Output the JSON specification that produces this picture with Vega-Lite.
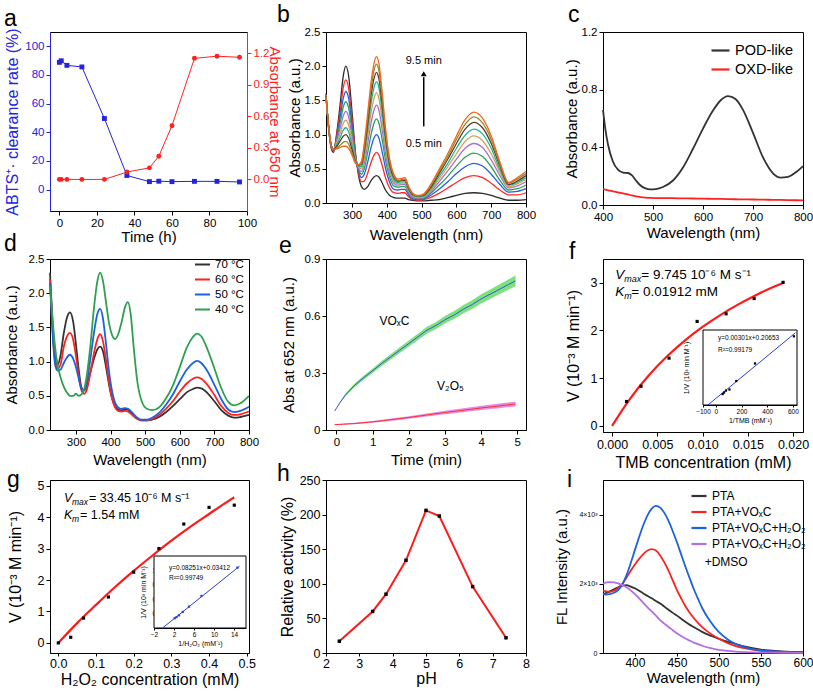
{
"$schema":"https://vega.github.io/schema/vega-lite/v6.json",
"background":"white",
"padding":{"left":3,"top":3,"right":0,"bottom":0},
"columns":3,
"spacing":{"row":48,"column":77},
"bounds":"flush",
"align":"each",
"resolve":{"scale":{"color":"independent"},"legend":{"color":"independent"}},
"datasets":{
"a":[{"t":0,"c":88.8,"r":0},{"t":1,"c":89.9,"r":0},{"t":4,"c":86.7,"r":0},{"t":12,"c":85.6,"r":0},{"t":24,"c":49.6,"r":0},{"t":36,"c":9.8,"r":0.07},{"t":48,"c":5.5,"r":0.11},{"t":53,"c":5.8,"r":0.22},{"t":60,"c":5.5,"r":0.51},{"t":72,"c":5.7,"r":1.15},{"t":84,"c":5.7,"r":1.17},{"t":96,"c":5.3,"r":1.16}],
"b":[
{"w":225,"k0":1.60,"k1":1.59,"k2":1.58,"k3":1.58,"k4":1.57,"k5":1.57,"k6":1.56,"k7":1.56,"k8":1.55,"k9":1.55},
{"w":232,"k0":1.12,"k1":1.13,"k2":1.13,"k3":1.14,"k4":1.14,"k5":1.14,"k6":1.15,"k7":1.15,"k8":1.15,"k9":1.15},
{"w":240,"k0":0.80,"k1":0.82,"k2":0.83,"k3":0.84,"k4":0.84,"k5":0.84,"k6":0.84,"k7":0.84,"k8":0.84,"k9":0.84},
{"w":247,"k0":0.74,"k1":0.76,"k2":0.77,"k3":0.78,"k4":0.78,"k5":0.78,"k6":0.78,"k7":0.78,"k8":0.78,"k9":0.78},
{"w":255,"k0":0.99,"k1":0.97,"k2":0.94,"k3":0.92,"k4":0.89,"k5":0.87,"k6":0.84,"k7":0.82,"k8":0.80,"k9":0.79},
{"w":265,"k0":1.41,"k1":1.31,"k2":1.23,"k3":1.15,"k4":1.08,"k5":1.01,"k6":0.95,"k7":0.90,"k8":0.84,"k9":0.81},
{"w":275,"k0":1.87,"k1":1.70,"k2":1.54,"k3":1.41,"k4":1.28,"k5":1.17,"k6":1.07,"k7":0.98,"k8":0.89,"k9":0.83},
{"w":282,"k0":2.00,"k1":1.80,"k2":1.63,"k3":1.48,"k4":1.34,"k5":1.21,"k6":1.10,"k7":1.00,"k8":0.90,"k9":0.83},
{"w":290,"k0":1.86,"k1":1.68,"k2":1.53,"k3":1.39,"k4":1.26,"k5":1.14,"k6":1.04,"k7":0.95,"k8":0.86,"k9":0.80},
{"w":300,"k0":1.32,"k1":1.22,"k2":1.13,"k3":1.05,"k4":0.97,"k5":0.90,"k6":0.84,"k7":0.78,"k8":0.73,"k9":0.70},
{"w":310,"k0":0.72,"k1":0.70,"k2":0.68,"k3":0.66,"k4":0.64,"k5":0.62,"k6":0.61,"k7":0.60,"k8":0.59,"k9":0.58},
{"w":318,"k0":0.42,"k1":0.45,"k2":0.48,"k3":0.50,"k4":0.52,"k5":0.53,"k6":0.54,"k7":0.55,"k8":0.55,"k9":0.56},
{"w":327,"k0":0.24,"k1":0.31,"k2":0.37,"k3":0.42,"k4":0.46,"k5":0.50,"k6":0.53,"k7":0.56,"k8":0.58,"k9":0.61},
{"w":335,"k0":0.20,"k1":0.32,"k2":0.42,"k3":0.50,"k4":0.58,"k5":0.65,"k6":0.71,"k7":0.77,"k8":0.82,"k9":0.87},
{"w":345,"k0":0.24,"k1":0.44,"k2":0.60,"k3":0.74,"k4":0.87,"k5":0.98,"k6":1.08,"k7":1.17,"k8":1.25,"k9":1.32},
{"w":355,"k0":0.33,"k1":0.60,"k2":0.82,"k3":1.01,"k4":1.18,"k5":1.33,"k6":1.47,"k7":1.59,"k8":1.69,"k9":1.78},
{"w":363,"k0":0.38,"k1":0.70,"k2":0.95,"k3":1.17,"k4":1.36,"k5":1.53,"k6":1.69,"k7":1.82,"k8":1.94,"k9":2.04},
{"w":370,"k0":0.40,"k1":0.74,"k2":1.00,"k3":1.23,"k4":1.43,"k5":1.61,"k6":1.77,"k7":1.91,"k8":2.03,"k9":2.14},
{"w":377,"k0":0.38,"k1":0.70,"k2":0.95,"k3":1.17,"k4":1.36,"k5":1.53,"k6":1.69,"k7":1.82,"k8":1.94,"k9":2.04},
{"w":386,"k0":0.30,"k1":0.56,"k2":0.76,"k3":0.94,"k4":1.09,"k5":1.23,"k6":1.35,"k7":1.46,"k8":1.56,"k9":1.64},
{"w":396,"k0":0.19,"k1":0.37,"k2":0.51,"k3":0.63,"k4":0.73,"k5":0.82,"k6":0.91,"k7":0.98,"k8":1.05,"k9":1.10},
{"w":408,"k0":0.11,"k1":0.22,"k2":0.30,"k3":0.37,"k4":0.43,"k5":0.48,"k6":0.53,"k7":0.57,"k8":0.61,"k9":0.64},
{"w":420,"k0":0.08,"k1":0.15,"k2":0.20,"k3":0.25,"k4":0.29,"k5":0.32,"k6":0.35,"k7":0.38,"k8":0.40,"k9":0.42},
{"w":432,"k0":0.07,"k1":0.14,"k2":0.19,"k3":0.23,"k4":0.26,"k5":0.28,"k6":0.30,"k7":0.32,"k8":0.33,"k9":0.35},
{"w":442,"k0":0.07,"k1":0.15,"k2":0.20,"k3":0.24,"k4":0.27,"k5":0.29,"k6":0.31,"k7":0.33,"k8":0.34,"k9":0.36},
{"w":452,"k0":0.07,"k1":0.15,"k2":0.20,"k3":0.24,"k4":0.27,"k5":0.29,"k6":0.31,"k7":0.33,"k8":0.35,"k9":0.37},
{"w":462,"k0":0.05,"k1":0.09,"k2":0.12,"k3":0.15,"k4":0.17,"k5":0.19,"k6":0.21,"k7":0.22,"k8":0.23,"k9":0.25},
{"w":475,"k0":0.04,"k1":0.05,"k2":0.06,"k3":0.08,"k4":0.09,"k5":0.10,"k6":0.11,"k7":0.12,"k8":0.13,"k9":0.14},
{"w":490,"k0":0.03,"k1":0.04,"k2":0.05,"k3":0.06,"k4":0.07,"k5":0.08,"k6":0.09,"k7":0.10,"k8":0.10,"k9":0.11},
{"w":505,"k0":0.03,"k1":0.05,"k2":0.06,"k3":0.07,"k4":0.08,"k5":0.09,"k6":0.10,"k7":0.11,"k8":0.12,"k9":0.13},
{"w":525,"k0":0.04,"k1":0.08,"k2":0.11,"k3":0.14,"k4":0.16,"k5":0.18,"k6":0.20,"k7":0.22,"k8":0.24,"k9":0.26},
{"w":550,"k0":0.05,"k1":0.14,"k2":0.20,"k3":0.26,"k4":0.31,"k5":0.35,"k6":0.39,"k7":0.43,"k8":0.46,"k9":0.49},
{"w":575,"k0":0.08,"k1":0.22,"k2":0.31,"k3":0.39,"k4":0.47,"k5":0.53,"k6":0.58,"k7":0.64,"k8":0.68,"k9":0.72},
{"w":600,"k0":0.11,"k1":0.30,"k2":0.43,"k3":0.54,"k4":0.64,"k5":0.72,"k6":0.80,"k7":0.87,"k8":0.93,"k9":0.98},
{"w":625,"k0":0.14,"k1":0.37,"k2":0.53,"k3":0.67,"k4":0.80,"k5":0.90,"k6":0.99,"k7":1.08,"k8":1.15,"k9":1.22},
{"w":650,"k0":0.15,"k1":0.40,"k2":0.58,"k3":0.73,"k4":0.87,"k5":0.98,"k6":1.08,"k7":1.18,"k8":1.26,"k9":1.33},
{"w":675,"k0":0.14,"k1":0.37,"k2":0.54,"k3":0.68,"k4":0.81,"k5":0.91,"k6":1.01,"k7":1.10,"k8":1.17,"k9":1.24},
{"w":700,"k0":0.11,"k1":0.29,"k2":0.42,"k3":0.53,"k4":0.63,"k5":0.72,"k6":0.80,"k7":0.87,"k8":0.93,"k9":0.98},
{"w":725,"k0":0.07,"k1":0.19,"k2":0.27,"k3":0.33,"k4":0.40,"k5":0.45,"k6":0.49,"k7":0.54,"k8":0.57,"k9":0.60},
{"w":750,"k0":0.04,"k1":0.12,"k2":0.16,"k3":0.19,"k4":0.22,"k5":0.24,"k6":0.26,"k7":0.27,"k8":0.29,"k9":0.30},
{"w":775,"k0":0.04,"k1":0.12,"k2":0.17,"k3":0.21,"k4":0.25,"k5":0.28,"k6":0.30,"k7":0.32,"k8":0.35,"k9":0.37},
{"w":800,"k0":0.05,"k1":0.15,"k2":0.21,"k3":0.26,"k4":0.31,"k5":0.34,"k6":0.37,"k7":0.40,"k8":0.43,"k9":0.46}],
"c":[{"w":400,"pod":0.66,"oxd":0.110},{"w":405,"pod":0.52,"oxd":0.106},{"w":410,"pod":0.42,"oxd":0.102},{"w":420,"pod":0.30,"oxd":0.095},{"w":430,"pod":0.245,"oxd":0.088},{"w":440,"pod":0.225,"oxd":0.080},{"w":450,"pod":0.222,"oxd":0.073},{"w":458,"pod":0.205,"oxd":0.066},{"w":466,"pod":0.17,"oxd":0.060},{"w":475,"pod":0.135,"oxd":0.055},{"w":485,"pod":0.115,"oxd":0.051},{"w":495,"pod":0.108,"oxd":0.049},{"w":505,"pod":0.11,"oxd":0.048},{"w":520,"pod":0.125,"oxd":0.048},{"w":540,"pod":0.17,"oxd":0.047},{"w":560,"pod":0.26,"oxd":0.046},{"w":580,"pod":0.39,"oxd":0.045},{"w":600,"pod":0.53,"oxd":0.044},{"w":620,"pod":0.655,"oxd":0.043},{"w":635,"pod":0.725,"oxd":0.042},{"w":650,"pod":0.755,"oxd":0.041},{"w":665,"pod":0.735,"oxd":0.040},{"w":680,"pod":0.66,"oxd":0.039},{"w":700,"pod":0.50,"oxd":0.038},{"w":720,"pod":0.33,"oxd":0.037},{"w":740,"pod":0.22,"oxd":0.036},{"w":755,"pod":0.19,"oxd":0.035},{"w":770,"pod":0.195,"oxd":0.034},{"w":785,"pod":0.225,"oxd":0.033},{"w":800,"pod":0.27,"oxd":0.032}],
"d":[{"w":225,"t70":2.30,"t60":2.20,"t50":2.15,"t40":2.10},{"w":232,"t70":1.60,"t60":1.50,"t50":1.45,"t40":1.65},{"w":240,"t70":1.05,"t60":1.00,"t50":0.95,"t40":1.20},{"w":247,"t70":0.95,"t60":0.90,"t50":0.87,"t40":0.95},{"w":255,"t70":1.08,"t60":0.95,"t50":0.88,"t40":0.78},{"w":265,"t70":1.42,"t60":1.22,"t50":0.98,"t40":0.63},{"w":275,"t70":1.66,"t60":1.38,"t50":1.07,"t40":0.54},{"w":283,"t70":1.72,"t60":1.42,"t50":1.10,"t40":0.50},{"w":292,"t70":1.58,"t60":1.32,"t50":1.04,"t40":0.50},{"w":300,"t70":1.25,"t60":1.08,"t50":0.92,"t40":0.53},{"w":308,"t70":0.88,"t60":0.80,"t50":0.75,"t40":0.50},{"w":316,"t70":0.62,"t60":0.58,"t50":0.60,"t40":0.52},{"w":324,"t70":0.58,"t60":0.53,"t50":0.58,"t40":0.60},{"w":332,"t70":0.66,"t60":0.60,"t50":0.72,"t40":0.82},{"w":342,"t70":0.85,"t60":0.85,"t50":1.05,"t40":1.25},{"w":352,"t70":1.04,"t60":1.12,"t50":1.42,"t40":1.78},{"w":362,"t70":1.18,"t60":1.33,"t50":1.70,"t40":2.18},{"w":370,"t70":1.22,"t60":1.40,"t50":1.77,"t40":2.30},{"w":378,"t70":1.15,"t60":1.30,"t50":1.63,"t40":2.18},{"w":386,"t70":0.95,"t60":1.05,"t50":1.30,"t40":1.90},{"w":395,"t70":0.68,"t60":0.72,"t50":0.88,"t40":1.58},{"w":405,"t70":0.45,"t60":0.45,"t50":0.55,"t40":1.38},{"w":413,"t70":0.35,"t60":0.33,"t50":0.40,"t40":1.33},{"w":422,"t70":0.30,"t60":0.28,"t50":0.33,"t40":1.40},{"w":432,"t70":0.29,"t60":0.27,"t50":0.31,"t40":1.58},{"w":442,"t70":0.30,"t60":0.28,"t50":0.32,"t40":1.80},{"w":450,"t70":0.30,"t60":0.27,"t50":0.31,"t40":1.87},{"w":458,"t70":0.26,"t60":0.24,"t50":0.28,"t40":1.70},{"w":467,"t70":0.21,"t60":0.20,"t50":0.23,"t40":1.20},{"w":477,"t70":0.17,"t60":0.16,"t50":0.18,"t40":0.72},{"w":490,"t70":0.14,"t60":0.14,"t50":0.15,"t40":0.42},{"w":505,"t70":0.14,"t60":0.14,"t50":0.15,"t40":0.31},{"w":520,"t70":0.15,"t60":0.16,"t50":0.18,"t40":0.29},{"w":540,"t70":0.19,"t60":0.22,"t50":0.25,"t40":0.33},{"w":560,"t70":0.26,"t60":0.31,"t50":0.37,"t40":0.46},{"w":580,"t70":0.35,"t60":0.42,"t50":0.52,"t40":0.65},{"w":600,"t70":0.45,"t60":0.56,"t50":0.71,"t40":0.92},{"w":620,"t70":0.55,"t60":0.68,"t50":0.88,"t40":1.20},{"w":638,"t70":0.60,"t60":0.75,"t50":0.98,"t40":1.36},{"w":650,"t70":0.62,"t60":0.77,"t50":1.01,"t40":1.41},{"w":662,"t70":0.61,"t60":0.75,"t50":0.98,"t40":1.37},{"w":680,"t70":0.54,"t60":0.66,"t50":0.86,"t40":1.18},{"w":700,"t70":0.42,"t60":0.51,"t50":0.66,"t40":0.90},{"w":720,"t70":0.29,"t60":0.35,"t50":0.45,"t40":0.61},{"w":740,"t70":0.21,"t60":0.25,"t50":0.30,"t40":0.41},{"w":757,"t70":0.18,"t60":0.22,"t50":0.26,"t40":0.36},{"w":775,"t70":0.19,"t60":0.23,"t50":0.28,"t40":0.39},{"w":800,"t70":0.22,"t60":0.27,"t50":0.34,"t40":0.50}],
"e1":[{"t":-0.05,"m":0.100,"lo":0.100,"hi":0.100},{"t":0.1,"m":0.145,"lo":0.142,"hi":0.148},{"t":0.25,"m":0.185,"lo":0.178,"hi":0.192},{"t":0.5,"m":0.235,"lo":0.225,"hi":0.245},{"t":0.75,"m":0.275,"lo":0.264,"hi":0.286},{"t":1.0,"m":0.312,"lo":0.300,"hi":0.324},{"t":1.25,"m":0.350,"lo":0.337,"hi":0.363},{"t":1.5,"m":0.385,"lo":0.371,"hi":0.399},{"t":1.75,"m":0.420,"lo":0.405,"hi":0.435},{"t":2.0,"m":0.455,"lo":0.439,"hi":0.471},{"t":2.25,"m":0.490,"lo":0.473,"hi":0.507},{"t":2.5,"m":0.525,"lo":0.507,"hi":0.543},{"t":2.75,"m":0.550,"lo":0.531,"hi":0.569},{"t":3.0,"m":0.580,"lo":0.560,"hi":0.600},{"t":3.25,"m":0.605,"lo":0.584,"hi":0.626},{"t":3.5,"m":0.635,"lo":0.613,"hi":0.657},{"t":3.75,"m":0.660,"lo":0.637,"hi":0.683},{"t":4.0,"m":0.690,"lo":0.666,"hi":0.714},{"t":4.25,"m":0.715,"lo":0.690,"hi":0.740},{"t":4.5,"m":0.740,"lo":0.714,"hi":0.766},{"t":4.75,"m":0.765,"lo":0.738,"hi":0.792},{"t":4.95,"m":0.785,"lo":0.757,"hi":0.813}],
"e2":[{"t":-0.05,"m":0.028,"lo":0.026,"hi":0.030},{"t":0.5,"m":0.034,"lo":0.030,"hi":0.038},{"t":1.0,"m":0.043,"lo":0.038,"hi":0.048},{"t":1.5,"m":0.054,"lo":0.048,"hi":0.060},{"t":2.0,"m":0.066,"lo":0.059,"hi":0.073},{"t":2.5,"m":0.079,"lo":0.071,"hi":0.087},{"t":3.0,"m":0.092,"lo":0.083,"hi":0.101},{"t":3.5,"m":0.104,"lo":0.094,"hi":0.114},{"t":4.0,"m":0.116,"lo":0.105,"hi":0.127},{"t":4.5,"m":0.127,"lo":0.115,"hi":0.139},{"t":4.95,"m":0.137,"lo":0.124,"hi":0.150}],
"f_pts":[{"s":0.0016,"v":0.51},{"s":0.0032,"v":0.83},{"s":0.0063,"v":1.42},{"s":0.0094,"v":2.19},{"s":0.0126,"v":2.35},{"s":0.0157,"v":2.67},{"s":0.0189,"v":3.01}],
"f_fit":[{"s":0,"v":0},{"s":0.002,"v":0.572},{"s":0.004,"v":1.045},{"s":0.006,"v":1.443},{"s":0.008,"v":1.782},{"s":0.010,"v":2.074},{"s":0.012,"v":2.329},{"s":0.014,"v":2.553},{"s":0.016,"v":2.752},{"s":0.018,"v":2.929},{"s":0.0189,"v":3.0}],
"f_in":[{"x":53,"y":0.33},{"x":64,"y":0.375},{"x":79,"y":0.43},{"x":106,"y":0.46},{"x":159,"y":0.70},{"x":305,"y":1.2},{"x":608,"y":1.97}],
"f_inl":[{"x":-62,"y":0.02},{"x":620,"y":2.07}],
"g_pts":[{"s":0,"v":0},{"s":0.033,"v":0.18},{"s":0.067,"v":0.79},{"s":0.133,"v":1.46},{"s":0.2,"v":2.25},{"s":0.267,"v":3.0},{"s":0.333,"v":3.78},{"s":0.4,"v":4.31},{"s":0.467,"v":4.38}],
"g_fit":[{"s":0,"v":0},{"s":0.05,"v":0.63},{"s":0.1,"v":1.21},{"s":0.15,"v":1.77},{"s":0.2,"v":2.29},{"s":0.25,"v":2.78},{"s":0.3,"v":3.25},{"s":0.35,"v":3.69},{"s":0.4,"v":4.10},{"s":0.45,"v":4.50},{"s":0.467,"v":4.63}],
"g_in":[{"x":2.14,"y":0.21},{"x":2.5,"y":0.235},{"x":3.0,"y":0.27},{"x":3.75,"y":0.34},{"x":5.0,"y":0.45},{"x":7.5,"y":0.67},{"x":14.67,"y":1.25}],
"g_inl":[{"x":-0.3,"y":0.01},{"x":15.1,"y":1.28}],
"h":[{"p":2.4,"v":17},{"p":3.4,"v":60},{"p":3.8,"v":85},{"p":4.4,"v":134},{"p":5.0,"v":206},{"p":5.4,"v":198},{"p":6.4,"v":96},{"p":7.4,"v":22}],
"h_err":[{"p":2.4,"v":15,"v2":19},{"p":3.4,"v":58,"v2":62},{"p":3.8,"v":83,"v2":87},{"p":4.4,"v":130,"v2":138},{"p":5.0,"v":202,"v2":210},{"p":5.4,"v":196,"v2":200},{"p":6.4,"v":94,"v2":98},{"p":7.4,"v":20,"v2":24}],
"i":[{"w":362,"p":1700,"v":1800,"h":1700,"d":2000},{"w":366,"p":1740,"v":1780,"h":1690,"d":2040},{"w":370,"p":1780,"v":1770,"h":1700,"d":2050},{"w":375,"p":1840,"v":1800,"h":1740,"d":2040},{"w":380,"p":1900,"v":1880,"h":1820,"d":2010},{"w":385,"p":1950,"v":2000,"h":1980,"d":1960},{"w":390,"p":1960,"v":2180,"h":2250,"d":1900},{"w":395,"p":1920,"v":2380,"h":2600,"d":1810},{"w":400,"p":1870,"v":2560,"h":2980,"d":1700},{"w":405,"p":1800,"v":2720,"h":3350,"d":1580},{"w":410,"p":1720,"v":2860,"h":3700,"d":1450},{"w":415,"p":1650,"v":2960,"h":3980,"d":1320},{"w":420,"p":1580,"v":3000,"h":4170,"d":1200},{"w":425,"p":1500,"v":2960,"h":4250,"d":1080},{"w":430,"p":1430,"v":2820,"h":4200,"d":950},{"w":435,"p":1340,"v":2620,"h":4050,"d":850},{"w":440,"p":1250,"v":2380,"h":3820,"d":750},{"w":445,"p":1160,"v":2100,"h":3520,"d":660},{"w":450,"p":1080,"v":1820,"h":3200,"d":570},{"w":455,"p":990,"v":1580,"h":2850,"d":490},{"w":460,"p":900,"v":1360,"h":2500,"d":420},{"w":465,"p":820,"v":1170,"h":2170,"d":360},{"w":470,"p":750,"v":1010,"h":1850,"d":300},{"w":475,"p":680,"v":870,"h":1570,"d":255},{"w":480,"p":610,"v":750,"h":1300,"d":210},{"w":490,"p":500,"v":560,"h":900,"d":140},{"w":500,"p":410,"v":410,"h":600,"d":90},{"w":510,"p":330,"v":290,"h":400,"d":60},{"w":520,"p":260,"v":200,"h":260,"d":40},{"w":530,"p":190,"v":140,"h":170,"d":28},{"w":540,"p":140,"v":95,"h":110,"d":20},{"w":550,"p":100,"v":65,"h":72,"d":14},{"w":560,"p":72,"v":45,"h":50,"d":10},{"w":575,"p":45,"v":30,"h":30,"d":7},{"w":590,"p":32,"v":20,"h":20,"d":5},{"w":600,"p":25,"v":15,"h":15,"d":5}]
},
"concat":[
{
"title":{"text":"a","dx":-46,"offset":-3},
"width":197,"height":179,
"data":{"name":"a"},
"encoding":{"x":{"field":"t","type":"quantitative","scale":{"domain":[-5,100],"nice":false},"axis":{"values":[0,20,40,60,80,100],"title":"Time (h)","titlePadding":1}}},
"layer":[
{"layer":[
{"mark":{"type":"line","color":"#2424e0","strokeWidth":1}},
{"mark":{"type":"point","shape":"square","filled":true,"color":"#2424e0","size":24,"opacity":1}}],
"encoding":{"y":{"field":"c","type":"quantitative","scale":{"domain":[-15,110],"nice":false},"axis":{"values":[0,20,40,60,80,100],"title":"ABTS⁺· clearance rate (%)","titleFontSize":16,"titlePadding":4,"titleColor":"#2424e0","labelColor":"#2424e0","domainColor":"#2424e0","tickColor":"#2424e0"}}}},
{"layer":[
{"mark":{"type":"line","color":"#ff2020","strokeWidth":1}},
{"mark":{"type":"point","shape":"circle","filled":true,"color":"#ff2020","size":24,"opacity":1}}],
"encoding":{"y":{"field":"r","type":"quantitative","scale":{"domain":[-0.3,1.4],"nice":false},"axis":{"orient":"right","values":[0,0.3,0.6,0.9,1.2],"format":".1f","title":"Absorbance at 650 nm","titlePadding":-2,"titleColor":"#ff2020","labelColor":"#ff2020","domainColor":"#ff2020","tickColor":"#ff2020"}}}}
],
"resolve":{"scale":{"y":"independent"}}
},
{
"title":{"text":"b","dx":-49,"offset":-1},
"width":200,"height":171,
"encoding":{
"x":{"field":"w","type":"quantitative","scale":{"domain":[225,800],"nice":false},"axis":{"values":[300,400,500,600,700,800],"title":"Wavelength (nm)","titlePadding":7}},
"y":{"field":"v","type":"quantitative","scale":{"domain":[0,2.5],"nice":false},"axis":{"values":[0,0.5,1,1.5,2,2.5],"format":".1f","title":"Absorbance (a.u.)","titlePadding":2}}},
"layer":[
{"data":{"name":"b"},"transform":[{"fold":["k0","k1","k2","k3","k4","k5","k6","k7","k8","k9"],"as":["sb","v"]}],
"mark":{"type":"line","strokeWidth":1.3,"interpolate":"monotone"},
"encoding":{"color":{"field":"sb","type":"nominal","scale":{"domain":["k0","k1","k2","k3","k4","k5","k6","k7","k8","k9"],"range":["#2b2b2b","#ff2a2a","#2060e8","#2ea050","#a86cdc","#d4a24c","#1fb395","#5b3b2b","#8e8a2e","#f4641c"]},"legend":null}}},
{"data":{"values":[{"w":506,"v":1.12,"v2":1.84}]},"mark":{"type":"rule","color":"black","strokeWidth":1.5},"encoding":{"y2":{"field":"v2"}}},
{"data":{"values":[{"w":506,"v":1.89}]},"mark":{"type":"point","shape":"triangle-up","filled":true,"color":"black","size":35,"opacity":1}},
{"data":{"values":[{"w":506,"v":2.08,"label":"9.5 min"},{"w":506,"v":0.86,"label":"0.5 min"}]},"mark":{"type":"text","fontSize":11,"align":"center","baseline":"middle","color":"black"},"encoding":{"text":{"field":"label"}}}
]
},
{
"title":{"text":"c","dx":-35,"offset":-1},
"width":200,"height":173,
"data":{"name":"c"},
"transform":[{"fold":["pod","oxd"],"as":["sc","v"]}],
"mark":{"type":"line","strokeWidth":1.8,"interpolate":"monotone"},
"encoding":{
"x":{"field":"w","type":"quantitative","scale":{"domain":[400,800],"nice":false},"axis":{"values":[400,500,600,700,800],"title":"Wavelength (nm)","titlePadding":3}},
"y":{"field":"v","type":"quantitative","scale":{"domain":[0,1.2],"nice":false},"axis":{"values":[0,0.4,0.8,1.2],"format":".1f","title":"Absorbance (a.u.)","titlePadding":2}},
"color":{"field":"sc","type":"nominal","scale":{"domain":["pod","oxd"],"range":["#333333","#ff2020"]},"legend":{"title":null,"legendX":107,"legendY":8,"labelFontSize":14.5,"symbolSize":324,"symbolStrokeWidth":2.2,"rowPadding":2,"labelExpr":"datum.label == 'pod' ? 'POD-like' : 'OXD-like'"}}}
},
{
"title":{"text":"d","dx":-46,"offset":-3},
"width":199,"height":171,
"data":{"name":"d"},
"transform":[{"fold":["t70","t60","t50","t40"],"as":["sd","v"]}],
"mark":{"type":"line","strokeWidth":1.8,"interpolate":"monotone"},
"encoding":{
"x":{"field":"w","type":"quantitative","scale":{"domain":[225,800],"nice":false},"axis":{"values":[300,400,500,600,700,800],"title":"Wavelength (nm)","titlePadding":5}},
"y":{"field":"v","type":"quantitative","scale":{"domain":[0,2.5],"nice":false},"axis":{"values":[0,0.5,1,1.5,2,2.5],"format":".1f","title":"Absorbance (a.u.)","titlePadding":9}},
"color":{"field":"sd","type":"nominal","scale":{"domain":["t70","t60","t50","t40"],"range":["#333333","#ff2020","#1a62e0","#2ea050"]},"legend":{"title":null,"legendX":144,"legendY":-3,"labelFontSize":11.5,"symbolSize":225,"symbolStrokeWidth":2,"rowPadding":1,"labelExpr":"replace(datum.label, 't', '') + ' °C'"}}}
},
{
"title":{"text":"e","dx":-47,"offset":-5},
"width":200,"height":171,
"encoding":{
"x":{"field":"t","type":"quantitative","scale":{"domain":[-0.29,5.24],"nice":false},"axis":{"values":[0,1,2,3,4,5],"title":"Time (min)","titlePadding":5}},
"y":{"field":"m","type":"quantitative","scale":{"domain":[0,0.9],"nice":false},"axis":{"values":[0,0.3,0.6,0.9],"format":"~g","title":"Abs at 652 nm (a.u.)","titlePadding":8}}},
"layer":[
{"data":{"name":"e1"},"mark":{"type":"area","color":"#66dd66","opacity":0.85},"encoding":{"y":{"field":"lo","type":"quantitative"},"y2":{"field":"hi"}}},
{"data":{"name":"e1"},"mark":{"type":"line","color":"#3a55e0","strokeWidth":1}},
{"data":{"name":"e2"},"mark":{"type":"area","color":"#e07ae0","opacity":0.85},"encoding":{"y":{"field":"lo","type":"quantitative"},"y2":{"field":"hi"}}},
{"data":{"name":"e2"},"mark":{"type":"line","color":"#ff3030","strokeWidth":1}},
{"data":{"values":[{"t":1.6,"m":0.575,"label":"VOₓC"},{"t":3.15,"m":0.232,"label":"V₂O₅"}]},"mark":{"type":"text","fontSize":12,"align":"center","baseline":"middle","color":"black"},"encoding":{"text":{"field":"label"}}}
]
},
{
"title":{"text":"f","dx":-34,"offset":-5},
"width":200,"height":173,
"layer":[
{"encoding":{
"x":{"field":"s","type":"quantitative","scale":{"domain":[-0.001,0.0211],"nice":false},"axis":{"values":[0,0.005,0.01,0.015,0.02],"format":".3f","title":"TMB concentration (mM)","labelFontSize":12.5,"titleFontSize":16,"titlePadding":4}},
"y":{"field":"v","type":"quantitative","scale":{"domain":[-0.13,3.5],"nice":false},"axis":{"values":[0,1,2,3],"title":"V (10⁻³ M min⁻¹)","labelFontSize":12.5,"titleFontSize":16,"titlePadding":9}}},
"layer":[
{"data":{"name":"f_fit"},"mark":{"type":"line","color":"#ff1a1a","strokeWidth":2.2,"interpolate":"monotone"}},
{"data":{"name":"f_pts"},"mark":{"type":"point","shape":"square","filled":true,"color":"black","size":10,"opacity":1}},
{"data":{"values":[{"s":0.00036,"v":3.07,"label":"V"},{"s":0.00036,"v":2.72,"label":"K"}]},"mark":{"type":"text","fontSize":13.5,"fontStyle":"italic","align":"left","baseline":"alphabetic","color":"black"},"encoding":{"text":{"field":"label"}}},
{"data":{"values":[{"s":0.00036,"v":3.07,"label":"max"}]},"mark":{"type":"text","fontSize":9,"fontStyle":"italic","align":"left","baseline":"alphabetic","dx":9,"dy":3,"color":"black"},"encoding":{"text":{"field":"label"}}},
{"data":{"values":[{"s":0.00036,"v":2.72,"label":"m"}]},"mark":{"type":"text","fontSize":9,"fontStyle":"italic","align":"left","baseline":"alphabetic","dx":9,"dy":3,"color":"black"},"encoding":{"text":{"field":"label"}}},
{"data":{"values":[{"s":0.00036,"v":3.07,"label":"= 9.745 10⁻⁶ M s⁻¹"}]},"mark":{"type":"text","fontSize":13.5,"align":"left","baseline":"alphabetic","dx":26,"color":"black"},"encoding":{"text":{"field":"label"}}},
{"data":{"values":[{"s":0.00036,"v":2.72,"label":"= 0.01912 mM"}]},"mark":{"type":"text","fontSize":13.5,"align":"left","baseline":"alphabetic","dx":16,"color":"black"},"encoding":{"text":{"field":"label"}}}
]},
{"encoding":{
"x":{"field":"x","type":"quantitative","scale":{"domain":[-100,632],"range":[100,194],"nice":false},"axis":{"orient":"bottom","offset":-27,"values":[-100,0,200,400,600],"title":"1/TMB (mM⁻¹)","labelFontSize":6.5,"titleFontSize":7,"tickSize":2,"labelPadding":1,"titlePadding":2}},
"y":{"field":"y","type":"quantitative","scale":{"domain":[0.02,2.15],"range":[146,71],"nice":false},"axis":{"orient":"left","offset":-113,"values":[0.5,1,1.5,2],"format":".1f","title":"1/V (10³ min M⁻¹)","labelFontSize":6.5,"titleFontSize":7,"tickSize":2,"labelPadding":1,"titlePadding":14}}},
"layer":[
{"data":{"values":[{"x":-100,"x2":632,"y":0.02,"y2":2.15}]},"mark":{"type":"rect","fill":"white","stroke":"black","strokeWidth":1},"encoding":{"x2":{"field":"x2"},"y2":{"field":"y2"}}},
{"data":{"name":"f_inl"},"mark":{"type":"line","color":"#2a3fd8","strokeWidth":1}},
{"data":{"name":"f_in"},"mark":{"type":"point","shape":"square","filled":true,"color":"black","size":5,"opacity":1}},
{"data":{"values":[{"x":17,"y":1.87,"label":"y=0.00301x+0.20653"},{"x":17,"y":1.53,"label":"R²=0.99179"}]},"mark":{"type":"text","fontSize":6.5,"align":"left","baseline":"alphabetic","color":"black"},"encoding":{"text":{"field":"label"}}}
]}
],
"resolve":{"scale":{"x":"independent","y":"independent"}}
},
{
"title":{"text":"g","dx":-43,"offset":-12},
"width":199,"height":173,
"layer":[
{"encoding":{
"x":{"field":"s","type":"quantitative","scale":{"domain":[-0.022,0.506],"nice":false},"axis":{"values":[0,0.1,0.2,0.3,0.4,0.5],"format":".1f","title":"H₂O₂ concentration (mM)","labelFontSize":12.5,"titleFontSize":16,"tickSize":3,"labelPadding":1,"titlePadding":2}},
"y":{"field":"v","type":"quantitative","scale":{"domain":[-0.32,5.18],"nice":false},"axis":{"values":[0,1,2,3,4,5],"title":"V (10⁻³ M min⁻¹)","labelFontSize":12.5,"titleFontSize":16,"titlePadding":14}}},
"layer":[
{"data":{"name":"g_fit"},"mark":{"type":"line","color":"#ff1a1a","strokeWidth":2.2,"interpolate":"monotone"}},
{"data":{"name":"g_pts"},"mark":{"type":"point","shape":"square","filled":true,"color":"black","size":10,"opacity":1}},
{"data":{"values":[{"s":0.0151,"v":4.49,"label":"V"},{"s":0.0151,"v":3.93,"label":"K"}]},"mark":{"type":"text","fontSize":12.5,"fontStyle":"italic","align":"left","baseline":"alphabetic","color":"black"},"encoding":{"text":{"field":"label"}}},
{"data":{"values":[{"s":0.0151,"v":4.49,"label":"max"}]},"mark":{"type":"text","fontSize":8.5,"fontStyle":"italic","align":"left","baseline":"alphabetic","dx":8,"dy":3,"color":"black"},"encoding":{"text":{"field":"label"}}},
{"data":{"values":[{"s":0.0151,"v":3.93,"label":"m"}]},"mark":{"type":"text","fontSize":8.5,"fontStyle":"italic","align":"left","baseline":"alphabetic","dx":8,"dy":3,"color":"black"},"encoding":{"text":{"field":"label"}}},
{"data":{"values":[{"s":0.0151,"v":4.49,"label":"= 33.45 10⁻⁶ M s⁻¹"}]},"mark":{"type":"text","fontSize":12.5,"align":"left","baseline":"alphabetic","dx":25,"color":"black"},"encoding":{"text":{"field":"label"}}},
{"data":{"values":[{"s":0.0151,"v":3.93,"label":"= 1.54 mM"}]},"mark":{"type":"text","fontSize":12.5,"align":"left","baseline":"alphabetic","dx":16,"color":"black"},"encoding":{"text":{"field":"label"}}}
]},
{"encoding":{
"x":{"field":"x","type":"quantitative","scale":{"domain":[-2,16.4],"range":[104,196],"nice":false},"axis":{"orient":"bottom","offset":-25,"values":[-2,2,6,10,14],"title":"1/H₂O₂ (mM⁻¹)","labelFontSize":6.5,"titleFontSize":7,"tickSize":2,"labelPadding":1,"titlePadding":2}},
"y":{"field":"y","type":"quantitative","scale":{"domain":[0.01,1.49],"range":[148,76],"nice":false},"axis":{"orient":"left","offset":-114,"values":[0.3,0.6,0.9,1.2],"format":".1f","title":"1/V (10³ min M⁻¹)","labelFontSize":6.5,"titleFontSize":7,"tickSize":2,"labelPadding":1,"titlePadding":5}}},
"layer":[
{"data":{"values":[{"x":-2,"x2":16.4,"y":0.01,"y2":1.49}]},"mark":{"type":"rect","fill":"white","stroke":"black","strokeWidth":1},"encoding":{"x2":{"field":"x2"},"y2":{"field":"y2"}}},
{"data":{"name":"g_inl"},"mark":{"type":"line","color":"#2a3fd8","strokeWidth":1}},
{"data":{"name":"g_in"},"mark":{"type":"point","shape":"square","filled":true,"color":"#2a3fd8","size":5,"opacity":1}},
{"data":{"values":[{"x":1.0,"y":1.20,"label":"y=0.08251x+0.03412"},{"x":1.0,"y":0.996,"label":"R²=0.99749"}]},"mark":{"type":"text","fontSize":6.5,"align":"left","baseline":"alphabetic","color":"black"},"encoding":{"text":{"field":"label"}}}
]}
],
"resolve":{"scale":{"x":"independent","y":"independent"}}
},
{
"title":{"text":"h","dx":-49,"offset":-12},
"width":200,"height":173,
"encoding":{
"x":{"field":"p","type":"quantitative","scale":{"domain":[2,8],"nice":false},"axis":{"values":[2,3,4,5,6,7,8],"title":"pH","labelFontSize":12.5,"titleFontSize":16,"tickSize":3,"labelPadding":1,"titlePadding":1}},
"y":{"field":"v","type":"quantitative","scale":{"domain":[0,250],"nice":false},"axis":{"values":[0,50,100,150,200,250],"title":"Relative activity (%)","labelFontSize":12.5,"titleFontSize":16,"titlePadding":4}}},
"layer":[
{"data":{"name":"h"},"mark":{"type":"line","color":"#ff1a1a","strokeWidth":2}},
{"data":{"name":"h_err"},"mark":{"type":"rule","color":"#f08080","strokeWidth":1},"encoding":{"y2":{"field":"v2"}}},
{"data":{"name":"h"},"mark":{"type":"point","shape":"square","filled":true,"color":"black","size":12,"opacity":1}}
]
},
{
"title":{"text":"i","dx":-36,"offset":-12},
"width":200,"height":173,
"layer":[
{"data":{"name":"i"},"transform":[{"fold":["p","v","h","d"],"as":["si","y"]}],
"mark":{"type":"line","strokeWidth":1.8,"interpolate":"monotone"},
"encoding":{
"x":{"field":"w","type":"quantitative","scale":{"domain":[362,600],"nice":false},"axis":{"values":[400,450,500,550,600],"title":"Wavelength (nm)","labelFontSize":12,"titleFontSize":15,"tickSize":3,"labelPadding":1,"titlePadding":2}},
"y":{"field":"y","type":"quantitative","scale":{"domain":[0,5000],"nice":false},"axis":{"values":[0,1000,2000,3000,4000,5000],"labelExpr":"datum.value == 0 ? '0' : format(datum.value/1000, 'd') + '×10³'","labelFontSize":7,"title":"FL Intensity (a.u.)","titleFontSize":15,"titlePadding":9}},
"color":{"field":"si","type":"nominal","scale":{"domain":["p","v","h","d"],"range":["#333333","#ff2020","#1a62e0","#b46ee0"]},"legend":{"title":null,"legendX":87,"legendY":7,"labelFontSize":12,"symbolSize":225,"symbolStrokeWidth":2.2,"rowPadding":1,"labelExpr":"datum.label == 'p' ? 'PTA' : datum.label == 'v' ? 'PTA+VOₓC' : datum.label == 'h' ? 'PTA+VOₓC+H₂O₂' : 'PTA+VOₓC+H₂O₂'"}}}},
{"data":{"values":[{"w":483,"y":2620,"label":"+DMSO"}]},"mark":{"type":"text","fontSize":12,"align":"left","baseline":"middle","color":"black"},"encoding":{"x":{"field":"w","type":"quantitative"},"y":{"field":"y","type":"quantitative"},"text":{"field":"label"}}}
]
}
],
"config":{
"font":"Liberation Sans",
"view":{"stroke":"black","strokeWidth":1},
"axis":{"grid":false,"domainColor":"black","tickColor":"black","labelColor":"black","titleColor":"black","labelFontSize":11.5,"titleFontSize":15,"titleFontWeight":"normal","tickSize":4,"labelPadding":2,"titlePadding":3,"labelOverlap":false,"labelFlush":false,"labelFont":"Liberation Sans","titleFont":"Liberation Sans","domainWidth":1,"tickWidth":1},
"title":{"fontSize":23,"fontWeight":"normal","anchor":"start","frame":"group","baseline":"alphabetic","font":"Liberation Sans","offset":10,"color":"black"},
"legend":{"orient":"none","symbolType":"stroke","labelFont":"Liberation Sans","padding":0,"labelColor":"black"},
"text":{"font":"Liberation Sans"}
}
}
